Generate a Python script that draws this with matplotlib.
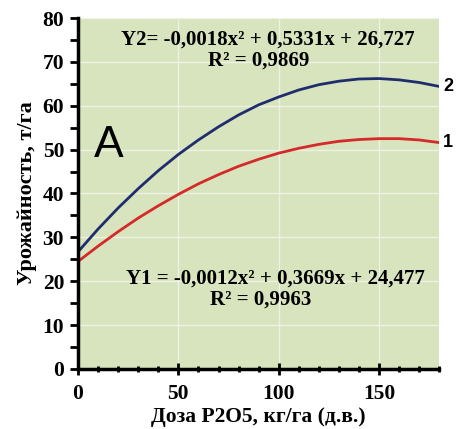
import matplotlib
matplotlib.use("Agg")
import matplotlib.pyplot as plt
from matplotlib.ticker import MultipleLocator

# values every 10 kg/ha
DOSE = [0, 10, 20, 30, 40, 50, 60, 70, 80, 90, 100, 110, 120, 130, 140, 150, 160, 170, 180]
Y2 = [26.7, 31.9, 36.7, 41.1, 45.2, 48.9, 52.2, 55.2, 57.9, 60.2, 62.0, 63.6, 64.8, 65.6, 66.1, 66.2, 65.9, 65.3, 64.4]
Y1 = [24.5, 28.0, 31.3, 34.4, 37.2, 39.8, 42.2, 44.3, 46.2, 47.8, 49.2, 50.3, 51.2, 51.9, 52.3, 52.5, 52.5, 52.2, 51.6]

EQ2 = "Y2= -0,0018x² + 0,5331x + 26,727"
R2_2 = "R² = 0,9869"
EQ1 = "Y1 = -0,0012x² + 0,3669x + 24,477"
R2_1 = "R² = 0,9963"

SERIF = "Liberation Serif"
BG = "#d8e4bd"

fig = plt.figure(figsize=(4.59, 4.29), dpi=100)
ax = fig.add_axes([0.170, 0.140, 0.787, 0.818])
ax.set_facecolor(BG)

ax.plot(DOSE, Y2, color="#1f2d6e", lw=2)
ax.plot(DOSE, Y1, color="#d42a2a", lw=2)

ax.set_xlim(0, 180)
ax.set_ylim(0, 80)
ax.xaxis.set_major_locator(MultipleLocator(50))
ax.xaxis.set_minor_locator(MultipleLocator(10))
ax.yaxis.set_major_locator(MultipleLocator(10))
ax.yaxis.set_minor_locator(MultipleLocator(5))
ax.grid(True, which="major", color="#eef2e4", lw=1)
ax.set_axisbelow(True)

for s in ("top", "right"):
    ax.spines[s].set_visible(False)
for s in ("left", "bottom"):
    ax.spines[s].set_linewidth(2.5)
    ax.spines[s].set_color("black")

ax.tick_params(which="major", direction="inout", length=8, width=2)
ax.tick_params(which="minor", direction="inout", length=5, width=2)
ax.tick_params(axis="y", which="both", direction="out", length=6, pad=4)
ax.tick_params(axis="x", which="major", pad=7)
for lab in ax.get_xticklabels() + ax.get_yticklabels():
    lab.set_fontfamily(SERIF)
    lab.set_fontweight("bold")
    lab.set_fontsize(15.5)

ax.set_xlabel("Доза P2O5, кг/га (д.в.)", family=SERIF, fontweight="bold",
              fontsize=15.5, labelpad=2)
ax.set_ylabel("Урожайность, т/га", family=SERIF, fontweight="bold",
              fontsize=16, labelpad=4)

ax.text(94.5, 75.0, EQ2, ha="center", va="center", family=SERIF,
        fontweight="bold", fontsize=15)
ax.text(90, 70.2, R2_2, ha="center", va="center", family=SERIF,
        fontweight="bold", fontsize=15)
ax.text(98.5, 20.6, EQ1, ha="center", va="center", family=SERIF,
        fontweight="bold", fontsize=15)
ax.text(91, 15.8, R2_1, ha="center", va="center", family=SERIF,
        fontweight="bold", fontsize=15)

ax.text(8, 51, "A", ha="left", va="center", family="Liberation Sans",
        fontsize=32)
ax.text(182, Y2[-1], "2", ha="left", va="center", family="Liberation Sans",
        fontweight="bold", fontsize=13, clip_on=False)
ax.text(182, Y1[-1], "1", ha="left", va="center", family="Liberation Sans",
        fontweight="bold", fontsize=13, clip_on=False)

fig.savefig("out.png", dpi=100, facecolor="white")
